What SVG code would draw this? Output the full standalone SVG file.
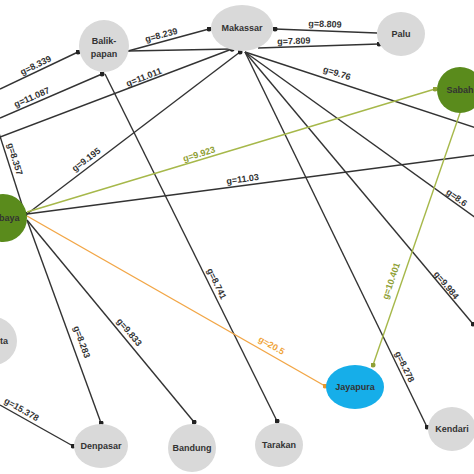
<svg xmlns="http://www.w3.org/2000/svg" width="474" height="474" viewBox="0 0 474 474">
<style>
.e{stroke:#333;stroke-width:1.4;fill:none;marker-end:url(#dk)}
.o{stroke:#a6b84a;stroke-width:1.4;fill:none;marker-end:url(#ol)}
.r{stroke:#f2a646;stroke-width:1.4;fill:none;marker-end:url(#or)}
.l{font-family:"Liberation Sans",Arial,sans-serif;font-size:9px;font-weight:bold;fill:#333;text-anchor:middle}
.lo{fill:#8fa035}
.lr{fill:#f0a53a}
.g{fill:#d9d9d9}
.gr{fill:#5a8b1c}
.t{font-family:"Liberation Sans",Arial,sans-serif;font-size:9px;font-weight:bold;fill:#333;text-anchor:middle}
</style>
<defs>
<marker id="dk" viewBox="0 0 6 6" refX="3" refY="3" markerWidth="5" markerHeight="5" markerUnits="userSpaceOnUse"><circle cx="3" cy="3" r="3" fill="#222"/></marker>
<marker id="ol" viewBox="0 0 6 6" refX="3" refY="3" markerWidth="5" markerHeight="5" markerUnits="userSpaceOnUse"><circle cx="3" cy="3" r="3" fill="#8fa035"/></marker>
<marker id="or" viewBox="0 0 6 6" refX="3" refY="3" markerWidth="5" markerHeight="5" markerUnits="userSpaceOnUse"><circle cx="3" cy="3" r="3" fill="#e8982e"/></marker>
</defs>
<rect width="474" height="474" fill="#fff"/>
<g id="connectors">
<line class="e" x1="0" y1="89" x2="78" y2="52"/>
<line class="e" x1="0" y1="118" x2="102" y2="74"/>
<line class="e" x1="0" y1="137" x2="232" y2="49"/>
<line class="e" x1="128" y1="51" x2="209" y2="29"/>
<line class="e" x1="128" y1="51" x2="232" y2="49"/>
<line class="e" x1="258" y1="48" x2="379" y2="44"/>
<line class="e" x1="377" y1="33" x2="275" y2="29"/>
<line class="e" x1="245" y1="52" x2="476" y2="128"/>
<line class="e" x1="27" y1="214" x2="240" y2="52"/>
<line class="e" x1="245" y1="52" x2="427" y2="427"/>
<line class="e" x1="245" y1="52" x2="473" y2="324"/>
<line class="e" x1="245" y1="52" x2="476" y2="218"/>
<line class="e" x1="105" y1="74" x2="277" y2="421"/>
<line class="e" x1="-2" y1="130" x2="25" y2="214"/>
<line class="e" x1="27" y1="220" x2="101" y2="423"/>
<line class="e" x1="27" y1="220" x2="194" y2="422"/>
<line class="e" x1="27" y1="214" x2="476" y2="155"/>
<line class="e" x1="0" y1="405" x2="73" y2="446"/>
<line class="o" x1="27" y1="212" x2="435" y2="89"/>
<line class="o" x1="460" y1="113" x2="373" y2="365"/>
<line class="r" x1="27" y1="216" x2="325" y2="386"/>
<text class="l" transform="translate(37,68) rotate(-26)">g=8.339</text>
<text class="l" transform="translate(33,100) rotate(-23)">g=11.087</text>
<text class="l" transform="translate(145,80) rotate(-21)">g=11.011</text>
<text class="l" transform="translate(162,38) rotate(-15)">g=8.239</text>
<text class="l" transform="translate(294,44) rotate(-2)">g=7.809</text>
<text class="l" transform="translate(325,27) rotate(2)">g=8.809</text>
<text class="l" transform="translate(336,76) rotate(18)">g=9.76</text>
<text class="l" transform="translate(88,162) rotate(-37)">g=9.195</text>
<text class="l" transform="translate(402,368) rotate(64)">g=8.278</text>
<text class="l" transform="translate(444,287) rotate(50)">g=9.984</text>
<text class="l" transform="translate(455,200) rotate(36)">g=8.6</text>
<text class="l" transform="translate(214,285) rotate(64)">g=8.741</text>
<text class="l" transform="translate(12,160) rotate(73)">g=8.357</text>
<text class="l" transform="translate(79,343) rotate(70)">g=8.283</text>
<text class="l" transform="translate(127,334) rotate(50)">g=9.833</text>
<text class="l" transform="translate(243,182) rotate(-7.5)">g=11.03</text>
<text class="l" transform="translate(20,412) rotate(30)">g=15.378</text>
<text class="l lo" transform="translate(200,157) rotate(-17)">g=9.923</text>
<text class="l lo" transform="translate(394,282) rotate(-71)">g=10.401</text>
<text class="l lr" transform="translate(270,348) rotate(30)">g=20.5</text>
</g>
<g id="makassar"><ellipse class="g" cx="242" cy="28" rx="31" ry="23"/><text class="t" x="242" y="31">Makassar</text></g>
<g id="palu"><ellipse class="g" cx="401" cy="34" rx="24" ry="22"/><text class="t" x="401" y="37">Palu</text></g>
<g id="balikpapan"><ellipse class="g" cx="104" cy="46" rx="25" ry="26"/><text class="t" x="104" y="44">Balik-</text><text class="t" x="104" y="57">papan</text></g>
<g id="sabah"><circle class="gr" cx="460" cy="90" r="23"/><text class="t" x="460" y="93" fill="#1c2a08">Sabah</text></g>
<g id="surabaya"><circle class="gr" cx="3" cy="218" r="24"/><text class="t" x="-1" y="221" style="text-anchor:start" fill="#1c2a08">baya</text></g>
<g id="jakarta"><circle class="g" cx="-7" cy="341" r="24"/><text class="t" x="0" y="344" style="text-anchor:start">ta</text></g>
<g id="jayapura"><ellipse cx="355" cy="387" rx="29" ry="22" fill="#16aee9"/><text class="t" x="355" y="390" fill="#0d2a44">Jayapura</text></g>
<g id="kendari"><ellipse class="g" cx="452" cy="429" rx="24" ry="22"/><text class="t" x="452" y="432">Kendari</text></g>
<g id="tarakan"><ellipse class="g" cx="279" cy="445" rx="24" ry="22"/><text class="t" x="279" y="448">Tarakan</text></g>
<g id="bandung"><ellipse class="g" cx="192" cy="448" rx="24" ry="24"/><text class="t" x="192" y="451">Bandung</text></g>
<g id="denpasar"><ellipse class="g" cx="101" cy="446" rx="27" ry="22"/><text class="t" x="101" y="449">Denpasar</text></g>
</svg>
